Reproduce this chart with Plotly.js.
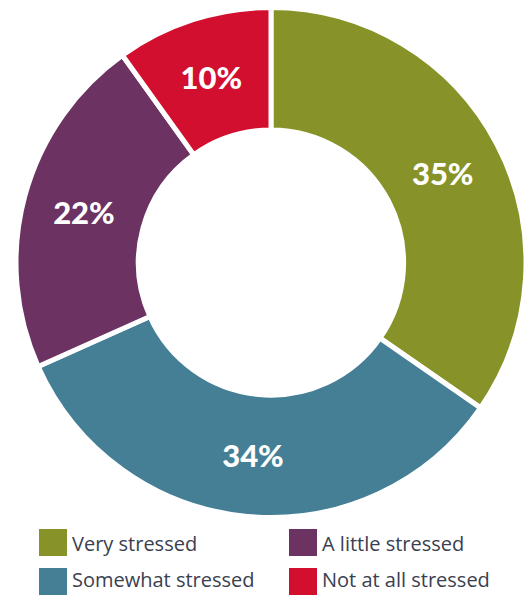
<!DOCTYPE html>
<html>
<head>
<meta charset="utf-8">
<script src="https://cdn.plot.ly/plotly-3.0.1.min.js"></script>
<style>html,body{margin:0;padding:0;background:#fff;}#chart{width:526px;height:595px;}</style>
</head>
<body>
<div id="chart"></div>
<script>
// Data (clockwise from 12 o'clock)
const categories = ["Very stressed", "Somewhat stressed", "A little stressed", "Not at all stressed"];
const values = [35, 34, 22, 10];
const colors = ["#879328", "#457f96", "#6b3262", "#d20f2f"];
// legend reading order (row-wise)
const legendOrder = ["Very stressed", "A little stressed", "Somewhat stressed", "Not at all stressed"];

const W = 526, H = 595;
const margin = {l: 16, r: 0, t: 7, b: 77};
const pw = W - margin.l - margin.r, ph = H - margin.t - margin.b;
const px2x = px => (px - margin.l) / pw;
const py2y = py => (H - margin.b - py) / ph;

const trace = {
  type: "pie",
  labels: categories,
  values: values,
  text: values.map(v => v + "%"),
  textinfo: "text",
  hole: 0.52,
  sort: false,
  direction: "clockwise",
  rotation: 0,
  marker: {colors: colors, line: {color: "#ffffff", width: 5}},
  textposition: "inside",
  insidetextorientation: "horizontal",
  textfont: {family: "Lato, 'Open Sans', sans-serif", size: 31, color: "#ffffff", weight: 900},
  showlegend: false,
  hoverinfo: "label+percent"
};

const shapes = [], annotations = [];
legendOrder.forEach((name, i) => {
  const col = i % 2, row = Math.floor(i / 2);
  const x0 = col === 0 ? 39 : 289;
  const y0 = row === 0 ? 529 : 568;
  const c = colors[categories.indexOf(name)];
  shapes.push({type: "rect", xref: "paper", yref: "paper",
    x0: px2x(x0), x1: px2x(x0 + 28), y0: py2y(y0 + 27), y1: py2y(y0),
    fillcolor: c, line: {width: 0}});
  annotations.push({xref: "paper", yref: "paper", x: px2x(x0 + 32),
    y: py2y(row === 0 ? y0 + 14 : y0 + 11),
    xanchor: "left", yanchor: "middle", showarrow: false, text: name, borderpad: 0,
    font: {family: "'Open Sans', sans-serif", size: 20, color: "#3a4050"}});
});

Plotly.newPlot("chart", [trace], {
  width: W, height: H, margin: margin,
  paper_bgcolor: "#ffffff", plot_bgcolor: "#ffffff",
  showlegend: false, shapes: shapes, annotations: annotations
}, {displayModeBar: false, staticPlot: true});
</script>
</body>
</html>
